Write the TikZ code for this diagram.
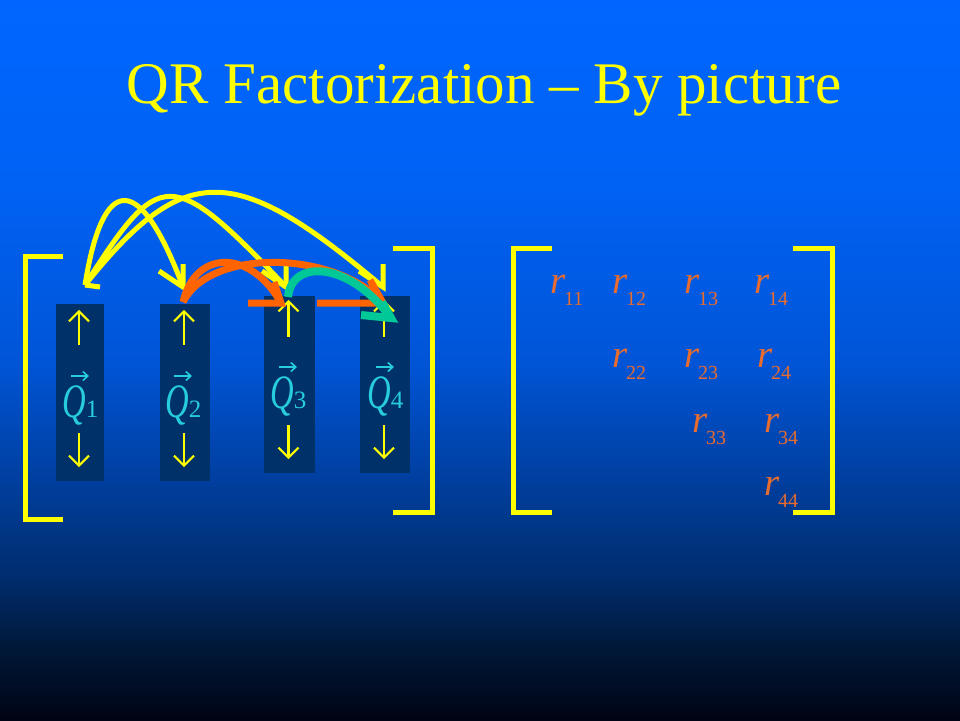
\documentclass[tikz,border=0pt]{standalone}
\usepackage{fontspec}
\usepackage{graphicx}
\setmainfont{Liberation Serif}
\usetikzlibrary{arrows.meta,calc}

\definecolor{bg0}{RGB}{0,4,20}
\definecolor{bg1}{RGB}{0,24,56}
\definecolor{bg2}{RGB}{0,45,110}
\definecolor{bg3}{RGB}{0,65,165}
\definecolor{bg4}{RGB}{0,85,215}
\definecolor{bg5}{RGB}{0,98,245}
\definecolor{bg6}{RGB}{0,102,255}
\definecolor{boxblue}{RGB}{0,50,105}
\definecolor{qcyan}{RGB}{40,205,220}
\definecolor{ror}{RGB}{232,108,48}
\definecolor{arcor}{RGB}{255,100,0}
\definecolor{arcgr}{RGB}{0,200,150}
\definecolor{ylw}{RGB}{255,255,0}

\pgfdeclareverticalshading{bgshade}{100bp}{color(0bp)=(bg0); color(25bp)=(bg0); color(30bp)=(bg1); color(35bp)=(bg2); color(42.5bp)=(bg3); color(50bp)=(bg4); color(62.5bp)=(bg5); color(75bp)=(bg6); color(100bp)=(bg6)}

\newcommand\rij[1]{\textit{r}\kern-1.5pt\raisebox{-12pt}{\fontsize{20}{20}\selectfont #1}}
\newcommand\qlabel[1]{\scalebox{0.68}[1]{\fontsize{48}{48}\selectfont\itshape Q}{\fontsize{25}{25}\selectfont #1}}

\tikzset{
  brk/.style={draw=ylw, line width=5pt, line join=miter},
  colbox/.style={fill=boxblue, draw=none, inner sep=0pt, minimum height=177pt},
  innerarr/.style={draw=ylw, line width=2.2pt, -{Straight Barb[length=10pt,width=20pt]}},
  vecarr/.style={draw=qcyan, line width=1.6pt, -{Straight Barb[length=5pt,width=9pt]}},
  yarc/.style={draw=ylw, line width=5pt, line join=miter},
  oarc/.style={draw=arcor, line width=7pt, line join=miter},
  garc/.style={draw=arcgr, line width=8pt, line join=miter},
  qlab/.style={text=qcyan, inner sep=0pt, anchor=base west},
  rent/.style={text=ror, inner sep=0pt, anchor=base west, font=\fontsize{39}{39}\selectfont},
}

\begin{document}
\begin{tikzpicture}[x=1pt,y=-1pt]
\useasboundingbox (0,0) rectangle (960,720);
\shade[shading=bgshade] (0,0) rectangle (960,720);

% title
\node[font=\fontsize{59}{59}\selectfont, text=ylw, anchor=base, inner sep=0pt] (title) at (484,103) {QR Factorization -- By picture};

% brackets of the Q matrix
\draw[brk] (63,256) -- (25,256) -- (25,519) -- (63,519);
\draw[brk] (393,248) -- (432,248) -- (432,512) -- (393,512);
% brackets of the R matrix
\draw[brk] (552,248) -- (513,248) -- (513,512) -- (552,512);
\draw[brk] (793,248) -- (832,248) -- (832,512) -- (793,512);

% columns
\node[colbox, minimum width=48pt] (c1) at (80,392.5) {};
\node[colbox, minimum width=50pt] (c2) at (185,392.5) {};
\node[colbox, minimum width=51pt] (c3) at (289.5,384.5) {};
\node[colbox, minimum width=50pt] (c4) at (385,384.5) {};

\foreach \c/\t in {c1/6,c2/6,c3/4,c4/4} {
  \draw[innerarr] ($(\c.north)+(-1,41)$) -- ($(\c.north)+(-1,\t)$);
  \draw[innerarr] ($(\c.south)+(-1,-48)$) -- ($(\c.south)+(-1,-14)$);
}

% Q labels
\node[qlab] (q1) at (62,417) {\qlabel{1}};
\node[qlab] (q2) at (165,417) {\qlabel{2}};
\node[qlab] (q3) at (270,408) {\qlabel{3}};
\node[qlab] (q4) at (367,408) {\qlabel{4}};
\foreach \q in {q1,q2,q3,q4} {
  \draw[vecarr] ($(\q.base west)+(9,-41)$) -- ($(\q.base west)+(27,-41)$);
}

% arc end points
\coordinate (a1) at (85,285);
\coordinate (a2) at (183,287);
\coordinate (a3) at (286,287);
\coordinate (a4) at (383,287);
\coordinate (b2) at (183,302);
\coordinate (b3) at (281,303);
\coordinate (b4) at (383,303);
\coordinate (g3) at (288,297);
\coordinate (g4) at (391,318);

% yellow arcs
\draw[yarc] (a1) .. controls (103,172) and (140,172) .. (a2);
\draw[yarc] (a1) .. controls (160,168) and (170,165) .. (a3);
\draw[yarc] (a1) .. controls (185,160) and (235,162) .. (a4);
\draw[yarc] (a1) -- ($(a1)+(15,2)$);
\foreach \a in {a2,a3,a4} {
  \draw[yarc] ($(\a)+(-24,-16)$) -- (\a) -- ($(\a)+(0,-23)$);
}

% orange arcs
\draw[oarc] (b2) .. controls (195,250) and (250,248) .. (b3);
\draw[oarc] (b2) .. controls (210,248) and (335,250) .. (b4);
\draw[oarc] ($(b3)+(-33,0)$) -- (b3) -- ($(b3)+(-7,-21)$);
\draw[oarc] ($(b4)+(-66,0)$) -- (b4) -- ($(b4)+(-13,-23)$);

% green arc
\draw[garc] (g3) .. controls (292,258) and (350,262) .. (g4);
\draw[garc] ($(g4)+(-30,-3)$) -- (g4) -- ($(g4)+(-9,-16)$);

% R entries
\node[rent] (r11) at (550,293) {\rij{11}};
\node[rent] (r12) at (612,293) {\rij{12}};
\node[rent] (r13) at (684,293) {\rij{13}};
\node[rent] (r14) at (754,293) {\rij{14}};
\node[rent] (r22) at (612,367) {\rij{22}};
\node[rent] (r23) at (684,367) {\rij{23}};
\node[rent] (r24) at (757,367) {\rij{24}};
\node[rent] (r33) at (692,432) {\rij{33}};
\node[rent] (r34) at (764,432) {\rij{34}};
\node[rent] (r44) at (764,495) {\rij{44}};
\end{tikzpicture}
\end{document}
